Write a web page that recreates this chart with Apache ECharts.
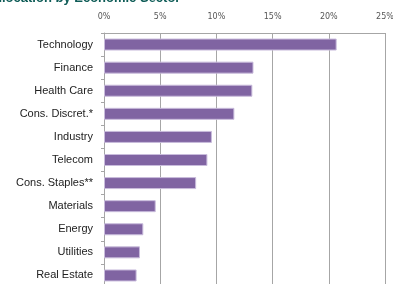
<!DOCTYPE html>
<html lang="en">
<head>
	<meta charset="UTF-8">
	<title>Allocation by Economic Sector</title>
	<script src="https://cdn.jsdelivr.net/npm/echarts@6/dist/echarts.min.js"></script>
	<style>
		html,body{margin:0;padding:0;width:100%;height:100%;background:#fff;}
		#chart{width:393px;height:284px;}
	</style>
</head>
<body>
	<div id="chart"></div>
<script>
	var sectors = ['Technology', 'Finance', 'Health Care', 'Cons. Discret.*', 'Industry', 'Telecom',
		'Cons. Staples**', 'Materials', 'Energy', 'Utilities', 'Real Estate'];
	var weights = [20.7, 13.3, 13.2, 11.6, 9.6, 9.2, 8.2, 4.6, 3.5, 3.2, 2.9];
	var tickLabels = ['0%', '5%', '10%', '15%', '20%', '25%'];

	var gridColor = '#a6a6a6';

	var myChart = echarts.init(document.getElementById('chart'));
	var options = {
		animation: false,
		// title is cut off by the top edge in the original
		graphic: [{
			type: 'text',
			left: -11,
			top: -8,
			style: {
				text: 'Allocation by Economic Sector',
				font: 'bold 13px "Liberation Sans", Arial, sans-serif',
				fill: '#0e5c57'
			}
		}],
		grid: {
			left: 104,
			top: 33,
			width: 281,
			height: 254,
			outerBoundsMode: 'none'
		},
		xAxis: {
			type: 'value',
			position: 'top',
			min: 0,
			max: 25,
			interval: 5,
			axisLine: {show: true, lineStyle: {color: gridColor, width: 1}},
			axisTick: {show: false},
			axisLabel: {
				margin: 12,
				fontSize: 8,
				color: '#555',
				fontFamily: '"DejaVu Sans", sans-serif',
				formatter: function (v) { return tickLabels[v / 5]; }
			},
			splitLine: {show: true, lineStyle: {color: gridColor, width: 1}}
		},
		yAxis: {
			type: 'category',
			inverse: true,
			data: sectors,
			axisLine: {show: true, lineStyle: {color: gridColor, width: 1}},
			axisTick: {show: true, length: 3, lineStyle: {color: gridColor}},
			axisLabel: {
				margin: 11,
				fontSize: 11,
				color: '#222',
				fontFamily: '"Liberation Sans", Arial, sans-serif'
			}
		},
		series: [{
			type: 'bar',
			data: weights,
			barWidth: 12,
			itemStyle: {color: '#8064a2', borderColor: '#c9bcdc', borderWidth: 1}
		}]
	};
	myChart.setOption(options);
</script>
</body>
</html>
